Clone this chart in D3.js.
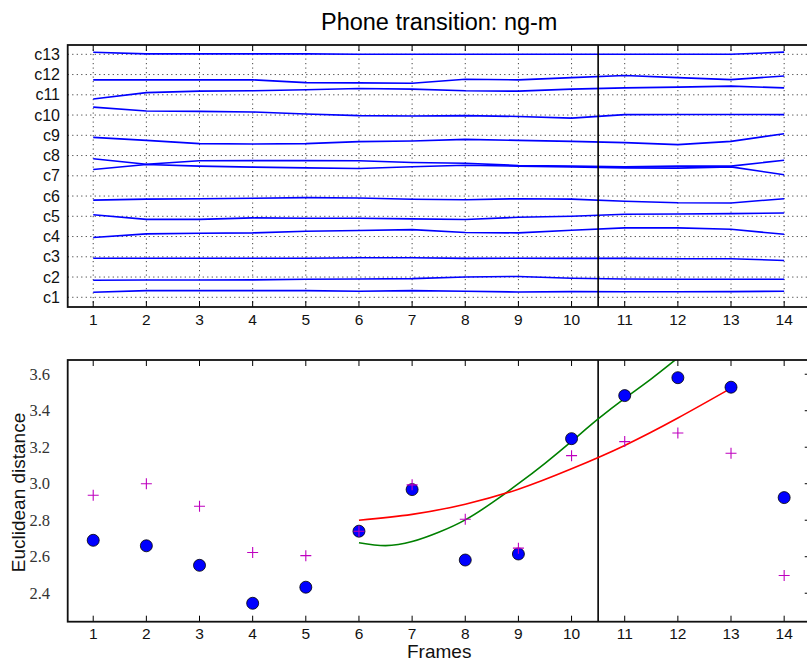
<!DOCTYPE html>
<html>
<head>
<meta charset="utf-8">
<script src="https://cdn.jsdelivr.net/npm/d3@7"></script>
<style>
  html, body { margin: 0; padding: 0; background: #fff; }
  svg { display: block; }
</style>
</head>
<body>
<svg id="chart" width="807" height="662"></svg>
<script>
// ---------- DATA ----------
const frames = [1,2,3,4,5,6,7,8,9,10,11,12,13,14];
const coefLabels = ["c1","c2","c3","c4","c5","c6","c7","c8","c9","c10","c11","c12","c13"];
const c1  = [1.25,1.33,1.33,1.33,1.33,1.30,1.33,1.30,1.26,1.28,1.27,1.27,1.28,1.30];
const c2  = [1.84,1.85,1.85,1.86,1.89,1.90,1.92,2.00,2.03,1.94,1.90,1.89,1.89,1.89];
const c3  = [2.93,2.93,2.93,2.93,2.93,2.95,2.95,2.92,2.93,2.92,2.92,2.90,2.90,2.82];
const c4  = [3.95,4.13,4.16,4.18,4.26,4.30,4.34,4.20,4.18,4.31,4.43,4.43,4.36,4.11];
const c5  = [5.08,4.85,4.85,4.92,4.90,4.90,4.87,4.84,4.95,5.00,5.10,5.11,5.13,5.16];
const c6  = [5.80,5.85,5.87,5.89,5.92,5.90,5.84,5.82,5.87,5.85,5.74,5.67,5.66,5.87];
const c7  = [7.31,7.56,7.48,7.43,7.39,7.36,7.45,7.52,7.48,7.44,7.39,7.38,7.44,7.05];
const c8  = [7.84,7.57,7.74,7.75,7.75,7.74,7.66,7.62,7.51,7.48,7.44,7.48,7.48,7.77];
const c9  = [8.90,8.75,8.59,8.57,8.59,8.69,8.72,8.80,8.75,8.70,8.64,8.54,8.70,9.08];
const c10 = [10.39,10.20,10.18,10.15,10.05,9.97,9.95,9.97,9.93,9.85,10.02,10.03,10.03,10.02];
const c11 = [10.79,11.11,11.18,11.20,11.25,11.31,11.28,11.20,11.18,11.28,11.34,11.38,11.43,11.34];
const c12 = [11.74,11.74,11.74,11.74,11.60,11.59,11.57,11.77,11.74,11.85,11.95,11.85,11.75,11.93];
const c13 = [13.10,13.02,13.02,13.02,13.02,13.00,13.00,13.00,13.00,13.00,13.00,13.00,13.00,13.11];
const coefSeries = [c1,c2,c3,c4,c5,c6,c7,c8,c9,c10,c11,c12,c13];

const distCircles = [2.69,2.66,2.553,2.345,2.433,2.74,2.968,2.582,2.615,3.247,3.483,3.581,3.529,2.924];
const distPlus    = [2.937,3.0,2.877,2.623,2.606,2.74,2.994,2.805,2.647,3.154,3.231,3.278,3.167,2.497];

const redX   = [6,7,8,9,10,11,12,13];
const redY   = [2.80,2.832,2.888,2.97,3.082,3.21,3.36,3.523];
const greenX = [6,6.5,7,7.5,8,8.5,9,9.5,10,10.5,11,11.5,12];
const greenY = [2.677,2.661,2.683,2.734,2.802,2.895,3.0,3.112,3.232,3.355,3.468,3.575,3.69];

const bottomYTicks = [2.4,2.6,2.8,3.0,3.2,3.4,3.6];
const boundaryFrame = 10.5;
const titleText = "Phone transition: ng-m";

// ---------- LAYOUT ----------
const svg = d3.select("#chart");
const L = 67.7;
const x = d3.scaleLinear().domain([0.52, 14.5]).range([L, L + 13.98 * 53.15]);
const top1 = 45, bot1 = 307;
const y1 = d3.scaleLinear().domain([0.52, 13.46]).range([bot1, top1]);
const top2 = 360, bot2 = 621.7;
const y2 = d3.scaleLinear().domain([2.244, 3.678]).range([bot2, top2]);
const R = x.range()[1];
const sans = "'Liberation Sans', Arial, sans-serif";
const serif = "'Liberation Serif', 'Times New Roman', serif";

// Title
svg.append("text").attr("x", (L + R) / 2).attr("y", 30)
  .attr("text-anchor", "middle").attr("font-family", sans).attr("font-size", 23.5)
  .attr("fill", "#000").text(titleText);

// ---------- TOP PANEL ----------
const g1 = svg.append("g");
g1.selectAll(".vg").data(frames).enter().append("line")
  .attr("x1", d => x(d)).attr("x2", d => x(d)).attr("y1", top1).attr("y2", bot1)
  .attr("stroke", "#444").attr("stroke-width", 1).attr("stroke-dasharray", "1.2,3.3");
g1.selectAll(".hg").data(coefLabels).enter().append("line")
  .attr("x1", L).attr("x2", R).attr("y1", (d, i) => y1(i + 1)).attr("y2", (d, i) => y1(i + 1))
  .attr("stroke", "#444").attr("stroke-width", 1).attr("stroke-dasharray", "1.2,3.3");

const line1 = d3.line().x((d, i) => x(frames[i])).y(d => y1(d));
g1.selectAll(".cl").data(coefSeries).enter().append("path")
  .attr("d", d => line1(d)).attr("fill", "none")
  .attr("stroke", "#0000ff").attr("stroke-width", 1.6);

g1.append("line").attr("x1", x(boundaryFrame)).attr("x2", x(boundaryFrame))
  .attr("y1", top1).attr("y2", bot1).attr("stroke", "#000").attr("stroke-width", 1.6);

frames.forEach(f => {
  g1.append("line").attr("x1", x(f)).attr("x2", x(f)).attr("y1", top1).attr("y2", top1 + 6)
    .attr("stroke", "#000").attr("stroke-width", 1);
  g1.append("line").attr("x1", x(f)).attr("x2", x(f)).attr("y1", bot1).attr("y2", bot1 - 6)
    .attr("stroke", "#000").attr("stroke-width", 1);
});
g1.append("rect").attr("x", L).attr("y", top1).attr("width", R - L).attr("height", bot1 - top1)
  .attr("fill", "none").attr("stroke", "#111").attr("stroke-width", 1.8);

g1.selectAll(".xl").data(frames).enter().append("text")
  .attr("x", d => x(d)).attr("y", 324.5).attr("text-anchor", "middle")
  .attr("font-family", sans).attr("font-size", 15.5).attr("fill", "#111").text(d => d);
g1.selectAll(".yl").data(coefLabels).enter().append("text")
  .attr("x", 60).attr("y", (d, i) => y1(i + 1) + 5.5).attr("text-anchor", "end")
  .attr("font-family", sans).attr("font-size", 16).attr("fill", "#111").text(d => d);

// ---------- BOTTOM PANEL ----------
const g2 = svg.append("g");
svg.append("defs").append("clipPath").attr("id", "clip2").append("rect")
  .attr("x", L).attr("y", top2).attr("width", R - L).attr("height", bot2 - top2);

const plotArea = g2.append("g").attr("clip-path", "url(#clip2)");

plotArea.append("line").attr("x1", x(boundaryFrame)).attr("x2", x(boundaryFrame))
  .attr("y1", top2).attr("y2", bot2).attr("stroke", "#000").attr("stroke-width", 1.6);

const curve = d3.line().curve(d3.curveNatural);
plotArea.append("path")
  .attr("d", curve(greenX.map((v, i) => [x(v), y2(greenY[i])])))
  .attr("fill", "none").attr("stroke", "#008000").attr("stroke-width", 1.6);
plotArea.append("path")
  .attr("d", curve(redX.map((v, i) => [x(v), y2(redY[i])])))
  .attr("fill", "none").attr("stroke", "#ff0000").attr("stroke-width", 1.6);

plotArea.selectAll(".dot").data(distCircles).enter().append("circle")
  .attr("cx", (d, i) => x(frames[i])).attr("cy", d => y2(d)).attr("r", 6)
  .attr("fill", "#0000ff").attr("stroke", "#000").attr("stroke-width", 0.8);
const ps = 5.5;
plotArea.selectAll(".plus").data(distPlus).enter().append("path")
  .attr("d", (d, i) => {
    const cx = x(frames[i]), cy = y2(d);
    return `M${cx - ps},${cy}H${cx + ps}M${cx},${cy - ps}V${cy + ps}`;
  })
  .attr("stroke", "#bf00bf").attr("stroke-width", 1.1).attr("fill", "none");

frames.forEach(f => {
  g2.append("line").attr("x1", x(f)).attr("x2", x(f)).attr("y1", top2).attr("y2", top2 + 6)
    .attr("stroke", "#000").attr("stroke-width", 1);
  g2.append("line").attr("x1", x(f)).attr("x2", x(f)).attr("y1", bot2).attr("y2", bot2 - 6)
    .attr("stroke", "#000").attr("stroke-width", 1);
});
bottomYTicks.forEach(t => {
  g2.append("line").attr("x1", R).attr("x2", R - 6).attr("y1", y2(t)).attr("y2", y2(t))
    .attr("stroke", "#000").attr("stroke-width", 1);
});
g2.append("rect").attr("x", L).attr("y", top2).attr("width", R - L).attr("height", bot2 - top2)
  .attr("fill", "none").attr("stroke", "#111").attr("stroke-width", 1.8);

g2.selectAll(".xl").data(frames).enter().append("text")
  .attr("x", d => x(d)).attr("y", 638.5).attr("text-anchor", "middle")
  .attr("font-family", sans).attr("font-size", 15.5).attr("fill", "#111").text(d => d);
g2.selectAll(".yl").data(bottomYTicks).enter().append("text")
  .attr("x", 50).attr("y", d => y2(d) + 5.5).attr("text-anchor", "end")
  .attr("font-family", serif).attr("font-size", 16.5).attr("fill", "#333").text(d => d.toFixed(1));

svg.append("text").attr("x", (L + R) / 2).attr("y", 658).attr("text-anchor", "middle")
  .attr("font-family", sans).attr("font-size", 19).attr("fill", "#111").text("Frames");
svg.append("text").attr("transform", "translate(25,492.5) rotate(-90)")
  .attr("text-anchor", "middle").attr("font-family", sans).attr("font-size", 19)
  .attr("fill", "#111").text("Euclidean distance");
</script>
</body>
</html>
